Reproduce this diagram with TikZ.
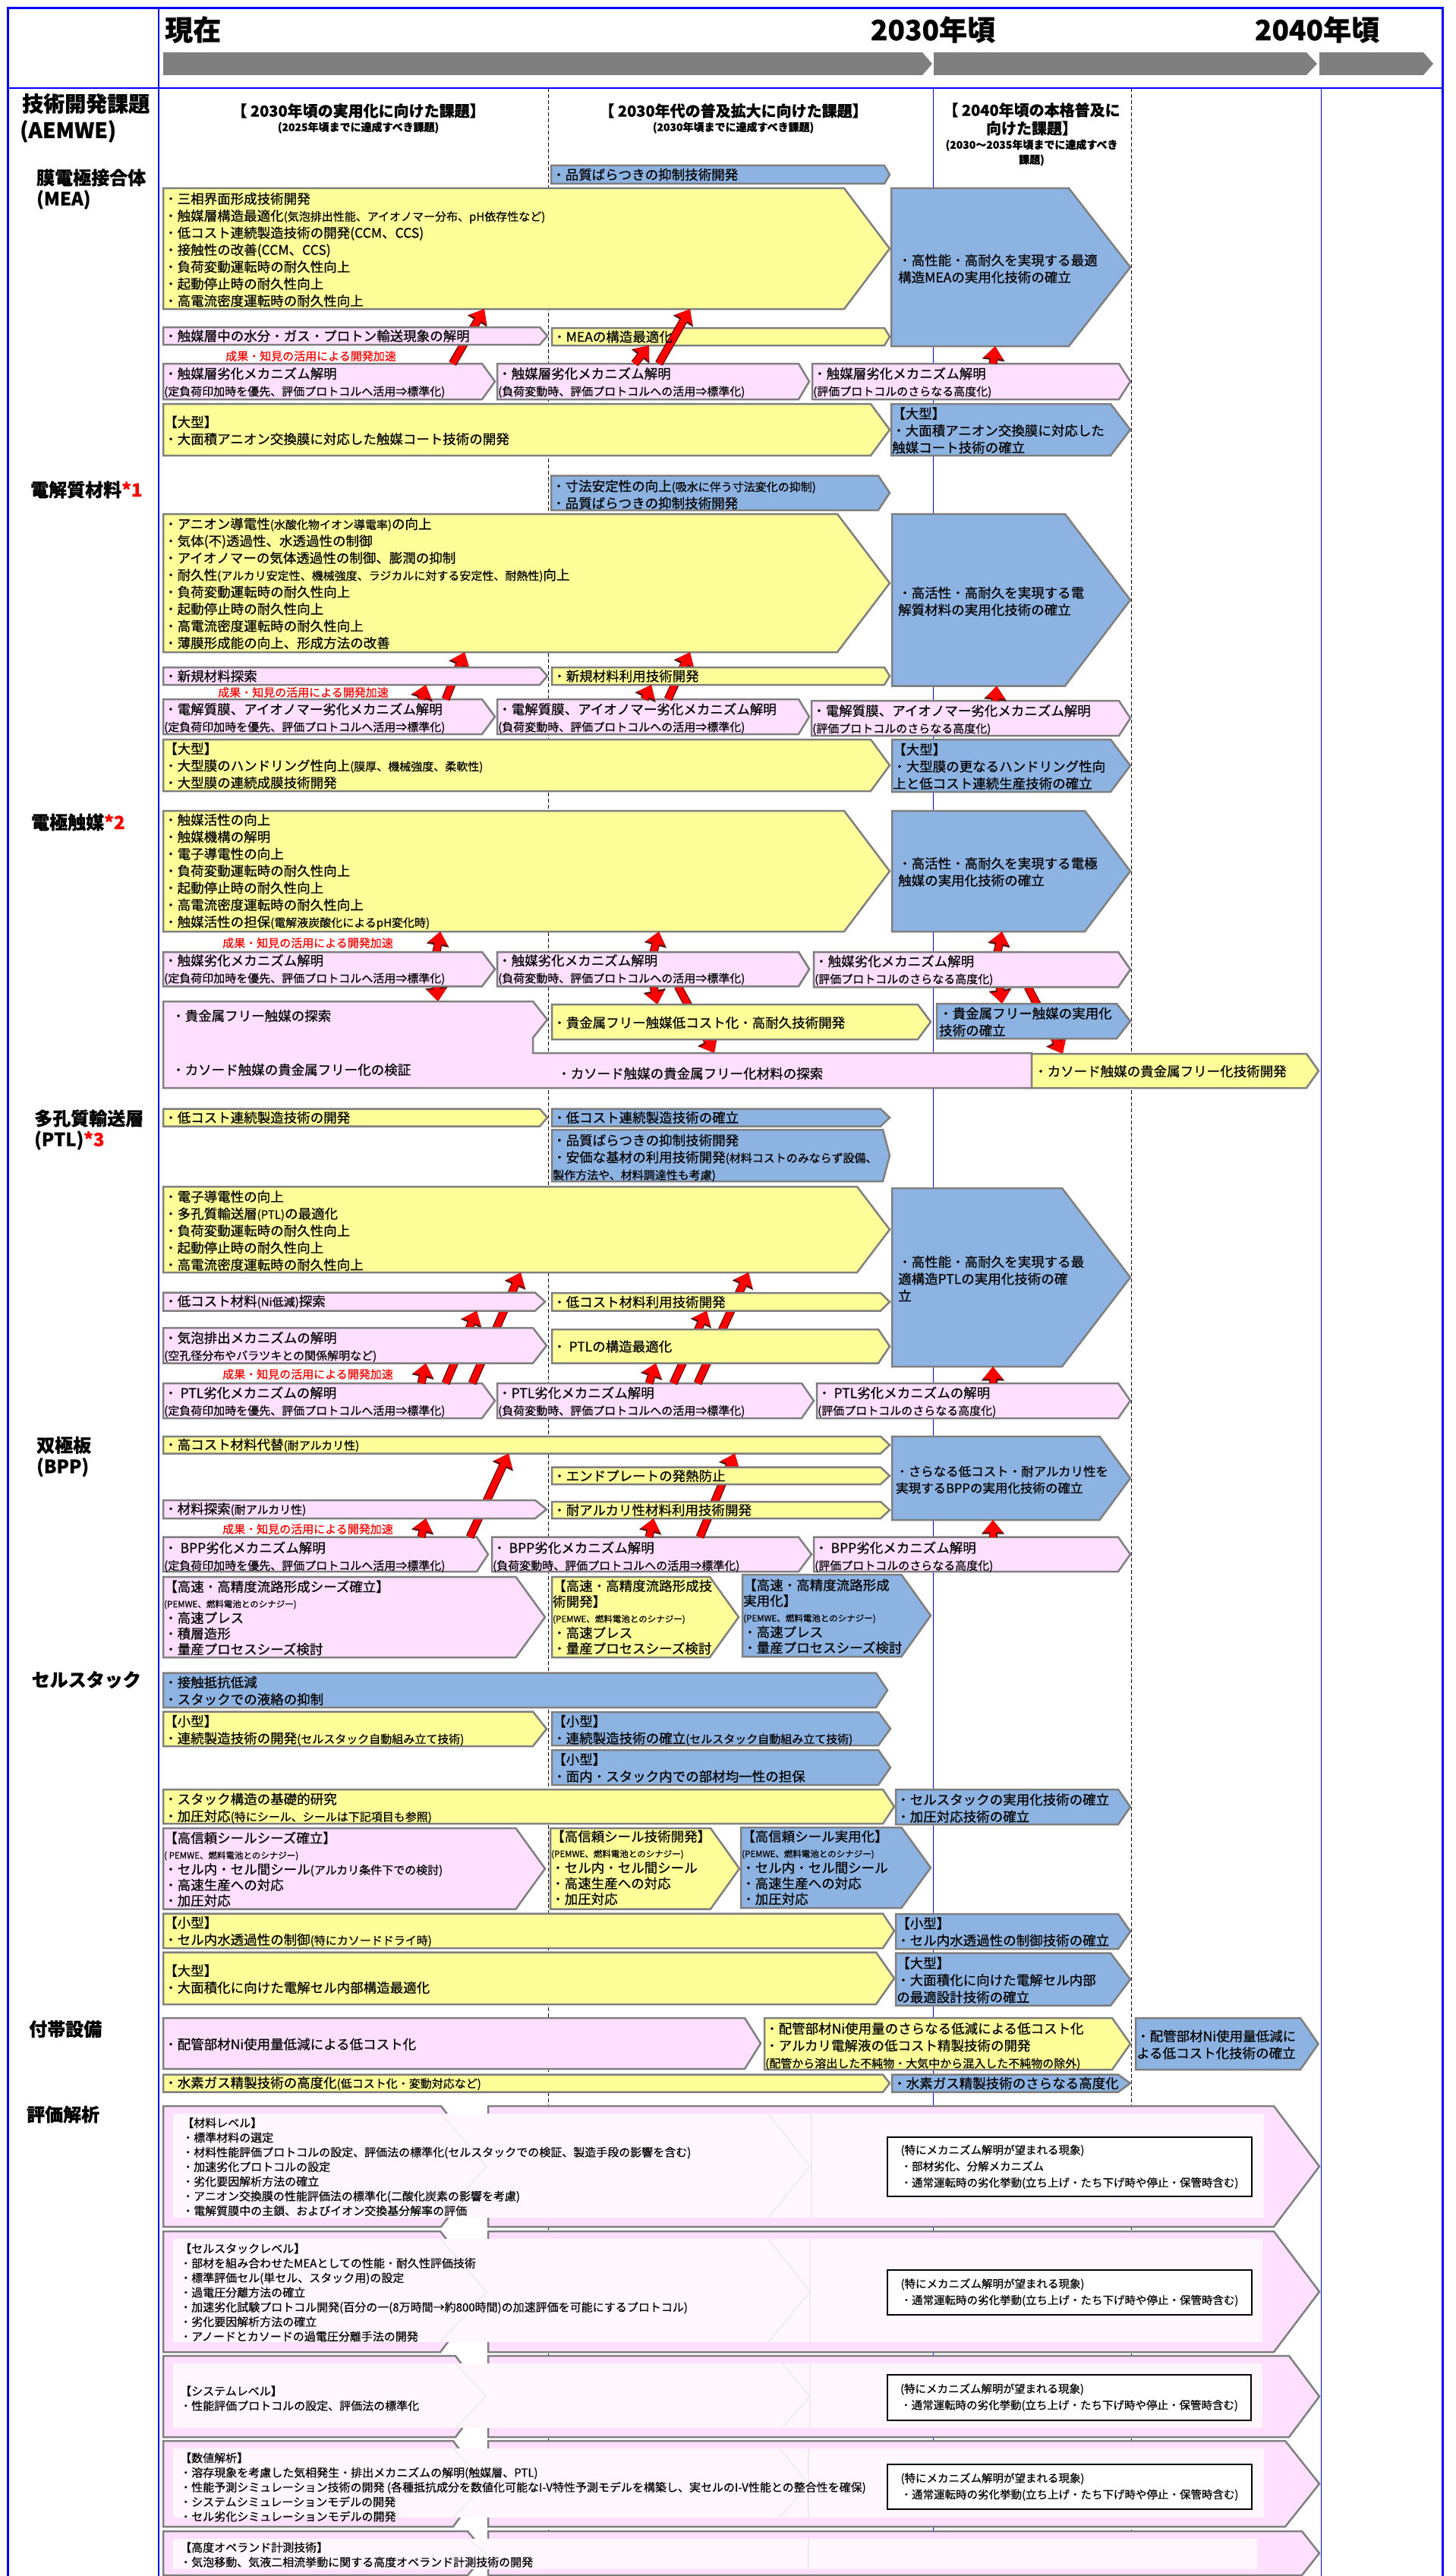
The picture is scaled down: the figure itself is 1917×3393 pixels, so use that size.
\documentclass[tikz,border=0pt]{standalone}
\usepackage{fontspec}
\newfontfamily\jp{Noto Sans CJK JP}[FakeBold=0.5]
\usetikzlibrary{arrows.meta}
\definecolor{cy}{HTML}{FFFF99}
\definecolor{cb}{HTML}{8DB3E2}
\definecolor{cp}{HTML}{FFDFFF}
\definecolor{bd}{HTML}{7F7F7F}
\definecolor{fb}{HTML}{0000FF}
\definecolor{evw}{HTML}{FFF7FE}
\definecolor{fl}{HTML}{ECECEC}
\definecolor{ao}{HTML}{5A1010}
\newcommand\bfnt{\jp\fontsize{17.5}{22.4}\selectfont}
\newcommand\smx[1]{{\fontsize{15}{22.4}\selectfont #1}}
\newcommand\tnx[1]{{\fontsize{11.5}{20.6}\selectfont #1}}
\newcommand\chev[7]{%
  \path[#2] (#3,#4) -- (#5,#4) -- (#6,{(#4+#7)/2}) -- (#5,#7) -- (#3,#7) -- cycle;
  \node[boxn, minimum width={(#6-#3)*1pt}, minimum height={(#7-#4)*1pt}] (#1) at ({(#3+#6)/2},{(#4+#7)/2}) {};
}
\tikzset{
  boxn/.style={inner sep=0pt, outer sep=0pt, draw=none, rectangle},
  yb/.style={fill=cy, draw=bd, line width=2.5pt, line join=miter},
  bb/.style={fill=cb, draw=bd, line width=2.5pt, line join=miter},
  pb/.style={fill=cp, draw=bd, line width=2.5pt, line join=miter},
  gbar/.style={fill=bd},
  tx/.style={inner sep=0pt, anchor=west, align=left, font=\bfnt},
  t5/.style={tx, font=\jp\fontsize{17.5}{20.6}\selectfont},
  et/.style={tx, font=\jp\fontsize{15}{19.3}\selectfont},
  ebx/.style={draw=black, line width=2pt, fill=white, inner sep=0pt, align=left, font=\jp\fontsize{14.5}{21.5}\selectfont},
  rt/.style={inner sep=0pt, anchor=west, text=red, font=\jp\fontsize{15}{18}\selectfont},
  hd/.style={inner sep=0pt, align=center, font=\jp\bfseries\fontsize{20}{24}\selectfont},
  hds/.style={inner sep=0pt, align=center, font=\jp\bfseries\fontsize{14}{19.5}\selectfont},
  tp/.style={inner sep=0pt, font=\jp\bfseries\fontsize{37}{40}\selectfont},
  lb0/.style={inner sep=0pt, anchor=west, font=\jp\bfseries\fontsize{28}{30}\selectfont},
  lb/.style={inner sep=0pt, anchor=west, font=\jp\bfseries\fontsize{24}{28}\selectfont},
  rarr/.style={draw=red, line width=8.5pt, -{Triangle[length=16pt,width=24pt]},
    preaction={draw=ao, line width=11pt, -{Triangle[length=18.5pt,width=29pt]}}},
  vdash/.style={draw=black, line width=1pt, dash pattern=on 5pt off 3pt},
  vblue/.style={draw=fb, line width=1pt},
  faint/.style={draw=fl, line width=1.5pt}
}
\begin{document}
\begin{tikzpicture}[x=1pt,y=-1pt]
\useasboundingbox (0,0) rectangle (1917,3393);
\fill[white] (0,0) rectangle (1917,3393);
% ---------- grid lines ----------
\draw[vdash] (722,116) -- (722,3393);
\draw[vdash] (1490,116) -- (1490,3393);
\draw[vblue] (1229,116) -- (1229,3393);
\draw[vblue] (1740,116) -- (1740,3393);
\draw[fb, line width=3pt] (10,3393) -- (10,11) -- (1900,11) -- (1900,3393);
\draw[fb, line width=2pt] (10,115.6) -- (1900,115.6);
\draw[fb, line width=1.5pt] (209,11) -- (209,3393);
% ---------- header ----------
\node[tp, anchor=west] (now) at (217,39) {現在};
\node[tp] (y2030) at (1229,39) {2030年頃};
\node[tp] (y2040) at (1735,39) {2040年頃};
\path[gbar] (215,69) -- (1215,69) -- (1228,84) -- (1215,99) -- (215,99) -- cycle;
\path[gbar] (1230,69) -- (1721,69) -- (1735,84) -- (1721,99) -- (1230,99) -- cycle;
\path[gbar] (1738,69) -- (1875,69) -- (1888,84) -- (1875,99) -- (1738,99) -- cycle;
\node[hd] (h1) at (472,146) {【 2030年頃の実用化に向けた課題】};
\node[hds] (h1s) at (472,168) {(2025年頃までに達成すべき課題)};
\node[hd] (h2) at (966,146) {【 2030年代の普及拡大に向けた課題】};
\node[hds] (h2s) at (966,168) {(2030年頃までに達成すべき課題)};
\node[hd] (h3) at (1359,157) {【 2040年頃の本格普及に\\向けた課題】};
\node[hds] (h3s) at (1359,201) {(2030～2035年頃までに達成すべき\\課題)};
% ---------- left labels ----------
\node[lb0] (lab0) at (29,136.5) {技術開発課題};
\node[lb0] (lab0b) at (26,173) {(AEMWE)};
\node[lb] (lab1) at (48,234) {膜電極接合体};
\node[lb] (lab1b) at (48,263) {(MEA)};
\node[lb] (lab2) at (40,645) {電解質材料\textcolor{red}{*1}};
\node[lb] (lab3) at (41,1083) {電極触媒\textcolor{red}{*2}};
\node[lb] (lab4) at (45,1473) {多孔質輸送層};
\node[lb] (lab4b) at (45,1502) {(PTL)\textcolor{red}{*3}};
\node[lb] (lab5) at (48,1903.5) {双極板};
\node[lb] (lab5b) at (48,1932.6) {(BPP)};
\node[lb] (lab6) at (41.5,2212.5) {セルスタック};
\node[lb] (lab7) at (38,2672.6) {付帯設備};
\node[lb] (lab8) at (35,2785) {評価解析};
% ---------- MEA ----------
\chev{meaQ}{bb}{726}{218}{1165}{1172}{242}
\chev{meaY}{yb}{215}{248}{1112}{1172}{407}
\chev{meaB}{bb}{1174}{248}{1408}{1489}{456}
\chev{meaY2}{yb}{727}{432}{1165}{1172}{455}
\chev{meaD1}{pb}{215}{479}{635}{652}{526}
\chev{meaD2}{pb}{655}{479}{1052}{1066}{526}
\chev{meaD3}{pb}{1070}{479}{1474}{1489}{526}
\draw[rarr] (596,0 |- meaD1.north) -- (638,0 |- meaY.south);
\draw[rarr] (836,0 |- meaD2.north) -- (855,0 |- meaY2.south);
\draw[rarr] (868,0 |- meaD2.north) -- (909,0 |- meaY.south);
\draw[rarr] (1308,0 |- meaD3.north) -- (1311,0 |- meaB.south);
\chev{meaP1}{pb}{215}{431}{711}{721}{454}
\node[tx] (tMeaQ) at (727,230) {・品質ばらつきの抑制技術開発};
\node[tx] (tMeaY) at (216,329) {・三相界面形成技術開発\\・触媒層構造最適化\smx{(気泡排出性能、アイオノマー分布、pH依存性など)}\\・低コスト連続製造技術の開発(CCM、CCS)\\・接触性の改善(CCM、CCS)\\・負荷変動運転時の耐久性向上\\・起動停止時の耐久性向上\\・高電流密度運転時の耐久性向上};
\node[tx] (tMeaB) at (1183,354) {・高性能・高耐久を実現する最適\\構造MEAの実用化技術の確立};
\node[tx] (tMeaP1) at (216,442.5) {・触媒層中の水分・ガス・プロトン輸送現象の解明};
\node[tx] (tMeaY2) at (728,443.5) {・MEAの構造最適化};
\node[rt] (rMea) at (297,469) {成果・知見の活用による開発加速};
\node[tx] (tMeaD1) at (216,504) {・触媒層劣化メカニズム解明\\\smx{(定負荷印加時を優先、評価プロトコルへ活用⇒標準化)}};
\node[tx] (tMeaD2) at (656,504) {・触媒層劣化メカニズム解明\\\smx{(負荷変動時、評価プロトコルへの活用⇒標準化)}};
\node[tx] (tMeaD3) at (1071,504) {・触媒層劣化メカニズム解明\\\smx{(評価プロトコルのさらなる高度化)}};
\chev{meaL}{yb}{215}{532}{1147}{1172}{600}
\node[tx] (tMeaL) at (216,567) {【大型】\\・大面積アニオン交換膜に対応した触媒コート技術の開発};
\chev{meaLb}{bb}{1174}{532}{1463}{1489}{600}
\node[tx] (tMeaLb) at (1175,567) {【大型】\\・大面積アニオン交換膜に対応した\\触媒コート技術の確立};
% ---------- electrolyte ----------
\chev{elB1}{bb}{726}{626.5}{1157}{1172}{672}
\node[tx] (tElB1) at (727,651.5) {・寸法安定性の向上\smx{(吸水に伴う寸法変化の抑制)}\\・品質ばらつきの抑制技術開発};
\chev{elY}{yb}{215}{677}{1103}{1172}{859}
\chev{elB}{bb}{1175}{677}{1403}{1489}{903.5}
\chev{elD1}{pb}{215}{921}{635}{652}{967}
\chev{elD2}{pb}{655}{921}{1052}{1066}{967}
\chev{elD3}{pb}{1069}{923}{1474}{1489}{969}
\draw[rarr] (587,0 |- elD1.north) -- (612,0 |- elY.south);
\draw[rarr] (880,0 |- elD2.north) -- (909,0 |- elY.south);
\draw[rarr] (1311,0 |- elD3.north) -- (1313,0 |- elB.south);
\chev{elP1}{pb}{215}{879}{711}{721}{902}
\chev{elY2}{yb}{727}{879}{1165}{1172}{902}
\draw[rarr] (555,0 |- elD1.north) -- (561,0 |- elP1.south);
\draw[rarr] (849,0 |- elD2.north) -- (858,0 |- elY2.south);
\node[tx] (tElY) at (216,768.5) {・アニオン導電性\smx{(水酸化物イオン導電率)}の向上\\・気体(不)透過性、水透過性の制御\\・アイオノマーの気体透過性の制御、膨潤の抑制\\・耐久性\smx{(アルカリ安定性、機械強度、ラジカルに対する安定性、耐熱性)}向上\\・負荷変動運転時の耐久性向上\\・起動停止時の耐久性向上\\・高電流密度運転時の耐久性向上\\・薄膜形成能の向上、形成方法の改善};
\node[tx] (tElB) at (1183,792) {・高活性・高耐久を実現する電\\解質材料の実用化技術の確立};
\node[tx] (tElP1) at (216,890.5) {・新規材料探索};
\node[tx] (tElY2) at (728,890.5) {・新規材料利用技術開発};
\node[rt] (rEl) at (287,912) {成果・知見の活用による開発加速};
\node[tx] (tElD1) at (216,946) {・電解質膜、アイオノマー劣化メカニズム解明\\\smx{(定負荷印加時を優先、評価プロトコルへ活用⇒標準化)}};
\node[tx] (tElD2) at (656,946) {・電解質膜、アイオノマー劣化メカニズム解明\\\smx{(負荷変動時、評価プロトコルへの活用⇒標準化)}};
\node[tx] (tElD3) at (1070,948) {・電解質膜、アイオノマー劣化メカニズム解明\\\smx{(評価プロトコルのさらなる高度化)}};
\chev{elL}{yb}{215}{974}{1147}{1172}{1042}
\node[tx] (tElL) at (216,1008.5) {【大型】\\・大型膜のハンドリング性向上\smx{(膜厚、機械強度、柔軟性)}\\・大型膜の連続成膜技術開発};
\chev{elLb}{bb}{1175}{974}{1463}{1489}{1043}
\node[tx] (tElLb) at (1176,1009.5) {【大型】\\・大型膜の更なるハンドリング性向\\上と低コスト連続生産技術の確立};
% ---------- catalyst ----------
\chev{caY}{yb}{215}{1068}{1112}{1172}{1227}
\chev{caB}{bb}{1175}{1068}{1429}{1489}{1227}
\chev{caD1}{pb}{215}{1254}{635}{652}{1299}
\chev{caD2}{pb}{655}{1254}{1052}{1066}{1299}
\chev{caD3}{pb}{1072}{1254}{1473}{1489}{1300}
\coordinate (caPkN) at (460,1319);
\coordinate (caPkS) at (1000,1387);
\draw[rarr] (575,0 |- caD1.north) -- (580,0 |- caY.south);
\draw[rarr] (861,0 |- caD2.north) -- (868,0 |- caY.south);
\draw[rarr] (1314,0 |- caD3.north) -- (1320,0 |- caB.south);
\draw[rarr] (575,0 |- caD1.south) -- (577,0 |- caPkN);
\draw[rarr] (861,0 |- caD2.south) -- (866,1323);
\draw[rarr] (893,0 |- caD2.south) -- (941,0 |- caPkS);
\draw[rarr] (1317,0 |- caD3.south) -- (1320,1322);
\draw[rarr] (1354,0 |- caD3.south) -- (1400,1388);
\chev{caD1b}{pb}{215}{1254}{635}{652}{1299}
\chev{caD2b}{pb}{655}{1254}{1052}{1066}{1299}
\chev{caD3b}{pb}{1072}{1254}{1473}{1489}{1300}
\path[pb] (215,1319) -- (702,1319) -- (721,1343) -- (702,1367) -- (702,1387) -- (1359,1387) -- (1359,1433) -- (215,1433) -- cycle;
\chev{caY2}{yb}{727}{1323}{1209}{1226}{1369}
\chev{caB2}{bb}{1234}{1322}{1471}{1489}{1368}
\chev{caY3}{yb}{1359}{1388}{1721}{1737}{1433}
\node[tx] (tCaY) at (216,1148) {・触媒活性の向上\\・触媒機構の解明\\・電子導電性の向上\\・負荷変動運転時の耐久性向上\\・起動停止時の耐久性向上\\・高電流密度運転時の耐久性向上\\・触媒活性の担保\smx{(電解液炭酸化によるpH変化時)}};
\node[tx] (tCaB) at (1183,1148.5) {・高活性・高耐久を実現する電極\\触媒の実用化技術の確立};
\node[rt] (rCa) at (293,1242) {成果・知見の活用による開発加速};
\node[tx] (tCaD1) at (216,1277) {・触媒劣化メカニズム解明\\\smx{(定負荷印加時を優先、評価プロトコルへ活用⇒標準化)}};
\node[tx] (tCaD2) at (656,1277) {・触媒劣化メカニズム解明\\\smx{(負荷変動時、評価プロトコルへの活用⇒標準化)}};
\node[tx] (tCaD3) at (1073,1278) {・触媒劣化メカニズム解明\\\smx{(評価プロトコルのさらなる高度化)}};
\node[tx] (tCaPk1) at (226,1338) {・貴金属フリー触媒の探索};
\node[tx] (tCaPk2) at (226,1409) {・カソード触媒の貴金属フリー化の検証};
\node[tx] (tCaPk3) at (734,1414) {・カソード触媒の貴金属フリー化材料の探索};
\node[tx] (tCaY2) at (728,1347) {・貴金属フリー触媒低コスト化・高耐久技術開発};
\node[tx] (tCaB2) at (1237,1346) {・貴金属フリー触媒の実用化\\技術の確立};
\node[tx] (tCaY3) at (1362,1411) {・カソード触媒の貴金属フリー化技術開発};
% ---------- PTL ----------
\chev{ptlY1}{yb}{215}{1460.6}{711}{721}{1483.5}
\node[tx] (tPtlY1) at (216,1472) {・低コスト連続製造技術の開発};
\chev{ptlB1}{bb}{727}{1460.6}{1160}{1172}{1483.5}
\node[tx] (tPtlB1) at (728,1472) {・低コスト連続製造技術の確立};
\chev{ptlB2}{bb}{727}{1488}{1163}{1172}{1556}
\node[tx] (tPtlB2) at (728,1525) {・品質ばらつきの抑制技術開発\\・安価な基材の利用技術開発\smx{(材料コストのみならず設備、}\\\smx{製作方法や、材料調達性も考慮)}};
\chev{ptlY}{yb}{215}{1563}{1129}{1172}{1676}
\chev{ptlB}{bb}{1175}{1565}{1399}{1489}{1800}
\chev{ptlD1}{pb}{215}{1822}{635}{652}{1868}
\chev{ptlD2}{pb}{655}{1822}{1056}{1072}{1868}
\chev{ptlD3}{pb}{1076}{1822}{1473}{1489}{1868}
\draw[rarr] (622,0 |- ptlD1.north) -- (686,0 |- ptlY.south);
\draw[rarr] (919,0 |- ptlD2.north) -- (986,0 |- ptlY.south);
\draw[rarr] (1308,0 |- ptlD3.north) -- (1308,0 |- ptlB.south);
\chev{ptlP1}{pb}{215}{1702.5}{705}{718}{1726.5}
\chev{ptlY2}{yb}{727}{1703}{1160}{1172}{1726.5}
\draw[rarr] (587,0 |- ptlD1.north) -- (628,0 |- ptlP1.south);
\draw[rarr] (887,0 |- ptlD2.north) -- (931,0 |- ptlY2.south);
\chev{ptlP2}{pb}{215}{1749}{702}{720}{1795.6}
\chev{ptlY3}{yb}{727}{1751}{1157}{1172}{1795.6}
\draw[rarr] (555,0 |- ptlD1.north) -- (561,0 |- ptlP2.south);
\draw[rarr] (855,0 |- ptlD2.north) -- (864,0 |- ptlY3.south);
\node[tx] (tPtlY) at (216,1621) {・電子導電性の向上\\・多孔質輸送層\smx{(PTL)}の最適化\\・負荷変動運転時の耐久性向上\\・起動停止時の耐久性向上\\・高電流密度運転時の耐久性向上};
\node[tx] (tPtlB) at (1183,1684) {・高性能・高耐久を実現する最\\適構造PTLの実用化技術の確\\立};
\node[tx] (tPtlP1) at (216,1714.5) {・低コスト材料\smx{(Ni低減)}探索};
\node[tx] (tPtlY2) at (728,1715) {・低コスト材料利用技術開発};
\node[tx] (tPtlP2) at (216,1774) {・気泡排出メカニズムの解明\\\smx{(空孔径分布やバラツキとの関係解明など)}};
\node[tx] (tPtlY3) at (728,1773.5) {・ PTLの構造最適化};
\node[rt] (rPtl) at (293,1810) {成果・知見の活用による開発加速};
\node[tx] (tPtlD1) at (216,1846.5) {・ PTL劣化メカニズムの解明\\\smx{(定負荷印加時を優先、評価プロトコルへ活用⇒標準化)}};
\node[tx] (tPtlD2) at (656,1846.5) {・PTL劣化メカニズム解明\\\smx{(負荷変動時、評価プロトコルへの活用⇒標準化)}};
\node[tx] (tPtlD3) at (1077,1846.5) {・ PTL劣化メカニズムの解明\\\smx{(評価プロトコルのさらなる高度化)}};
% ---------- BPP ----------
\chev{bppY1}{yb}{215}{1892}{1160}{1172}{1914.5}
\chev{bppB}{bb}{1175}{1892}{1448.5}{1489}{2002}
\chev{bppD1}{pb}{215}{2024.6}{628}{643}{2070}
\chev{bppD2}{pb}{648}{2024.6}{1052}{1069}{2070}
\chev{bppD3}{pb}{1072}{2024.6}{1473}{1489}{2070}
\draw[rarr] (619,0 |- bppD1.north) -- (670,0 |- bppY1.south);
\draw[rarr] (922,0 |- bppD2.north) -- (968,0 |- bppY1.south);
\draw[rarr] (1308,0 |- bppD3.north) -- (1308,0 |- bppB.south);
\chev{bppY2}{yb}{727}{1932.6}{1160}{1172}{1955}
\chev{bppP1}{pb}{215}{1976}{705}{720}{2000}
\chev{bppY3}{yb}{727}{1978}{1160}{1172}{2000}
\draw[rarr] (555,0 |- bppD1.north) -- (561,0 |- bppP1.south);
\draw[rarr] (855,0 |- bppD2.north) -- (861,0 |- bppY3.south);
\node[tx] (tBppY1) at (216,1903.5) {・高コスト材料代替\smx{(耐アルカリ性)}};
\node[tx, font=\jp\fontsize{16.5}{22}\selectfont] (tBppB) at (1180,1949) {・さらなる低コスト・耐アルカリ性を\\実現するBPPの実用化技術の確立};
\node[tx] (tBppY2) at (728,1944) {・エンドプレートの発熱防止};
\node[tx] (tBppP1) at (216,1988) {・材料探索\smx{(耐アルカリ性)}};
\node[tx] (tBppY3) at (728,1989) {・耐アルカリ性材料利用技術開発};
\node[rt] (rBpp) at (293,2014) {成果・知見の活用による開発加速};
\node[tx] (tBppD1) at (216,2050.5) {・ BPP劣化メカニズム解明\\\smx{(定負荷印加時を優先、評価プロトコルへ活用⇒標準化)}};
\node[tx] (tBppD2) at (649,2050.5) {・ BPP劣化メカニズム解明\\\smx{(負荷変動時、評価プロトコルへの活用⇒標準化)}};
\node[tx] (tBppD3) at (1073,2050.5) {・ BPP劣化メカニズム解明\\\smx{(評価プロトコルのさらなる高度化)}};
\chev{bppS1}{pb}{215}{2077}{679.5}{718}{2183}
\node[t5] (tBppS1) at (216,2131) {【高速・高精度流路形成シーズ確立】\\\tnx{(PEMWE、燃料電池とのシナジー)}\\・高速プレス\\・積層造形\\・量産プロセスシーズ検討};
\chev{bppS2}{yb}{727}{2077}{935}{973}{2183}
\node[t5] (tBppS2) at (728,2130) {【高速・高精度流路形成技\\術開発】\\\tnx{(PEMWE、燃料電池とのシナジー)}\\・高速プレス\\・量産プロセスシーズ検討};
\chev{bppS3}{bb}{978}{2074}{1187.5}{1226}{2182}
\node[t5] (tBppS3) at (979,2129) {【高速・高精度流路形成\\実用化】\\\tnx{(PEMWE、燃料電池とのシナジー)}\\・高速プレス\\・量産プロセスシーズ検討};
% ---------- cell stack ----------
\chev{csB1}{bb}{215}{2203.6}{1154}{1169}{2249}
\node[tx] (tCsB1) at (216,2227) {・接触抵抗低減\\・スタックでの液絡の抑制};
\chev{csY1}{yb}{215}{2254.5}{702}{720}{2300}
\node[tx] (tCsY1) at (216,2279) {【小型】\\・連続製造技術の開発\smx{(セルスタック自動組み立て技術)}};
\chev{csB2}{bb}{727}{2255}{1157}{1173}{2299}
\node[tx] (tCsB2) at (728,2279) {【小型】\\・連続製造技術の確立\smx{(セルスタック自動組み立て技術)}};
\chev{csB3}{bb}{727}{2305}{1157}{1173}{2351}
\node[tx] (tCsB3) at (728,2328.5) {【小型】\\・面内・スタック内での部材均一性の担保};
\chev{csY2}{yb}{215}{2357}{1163}{1178}{2402}
\node[tx] (tCsY2) at (216,2381.5) {・スタック構造の基礎的研究\\・加圧対応\smx{(特にシール、シールは下記項目も参照)}};
\chev{csB4}{bb}{1180}{2357}{1473}{1489}{2403}
\node[tx] (tCsB4) at (1181,2381.5) {・セルスタックの実用化技術の確立\\・加圧対応技術の確立};
\chev{csP1}{pb}{215}{2408}{679.5}{718}{2514.5}
\node[t5] (tCsP1) at (216,2462) {【高信頼シールシーズ確立】\\\tnx{( PEMWE、燃料電池とのシナジー)}\\・セル内・セル間シール\smx{(アルカリ条件下での検討)}\\・高速生産への対応\\・加圧対応};
\chev{csY3}{yb}{725}{2408}{936}{974}{2514.5}
\node[t5] (tCsY3) at (726,2460) {【高信頼シール技術開発】\\\tnx{(PEMWE、燃料電池とのシナジー)}\\・セル内・セル間シール\\・高速生産への対応\\・加圧対応};
\chev{csB5}{bb}{976}{2407}{1187.5}{1226}{2513}
\node[t5] (tCsB5) at (977,2460) {【高信頼シール実用化】\\\tnx{(PEMWE、燃料電池とのシナジー)}\\・セル内・セル間シール\\・高速生産への対応\\・加圧対応};
\chev{csY4}{yb}{215}{2520.6}{1163}{1178}{2566}
\node[tx] (tCsY4) at (216,2544.3) {【小型】\\・セル内水透過性の制御\smx{(特にカソードドライ時)}};
\chev{csB6}{bb}{1180}{2521}{1473}{1489}{2567}
\node[tx] (tCsB6) at (1181,2544.5) {【小型】\\・セル内水透過性の制御技術の確立};
\chev{csY5}{yb}{215}{2571.5}{1154}{1178}{2640}
\node[tx] (tCsY5) at (216,2606.75) {【大型】\\・大面積化に向けた電解セル内部構造最適化};
\chev{csB7}{bb}{1180}{2572.5}{1463}{1489}{2641.7}
\node[tx] (tCsB7) at (1181,2608) {【大型】\\・大面積化に向けた電解セル内部\\の最適設計技術の確立};
% ---------- auxiliary ----------
\chev{axP}{pb}{215}{2658}{981}{1002}{2725}
\node[tx] (tAxP) at (216,2692.5) {・配管部材Ni使用量低減による低コスト化};
\chev{axY}{yb}{1007}{2658}{1465}{1489}{2726}
\node[tx] (tAxY) at (1008,2695) {・配管部材Ni使用量のさらなる低減による低コスト化\\・アルカリ電解液の低コスト精製技術の開発\\\smx{(配管から溶出した不純物・大気中から混入した不純物の除外)}};
\chev{axB}{bb}{1496}{2658}{1713}{1736.6}{2726}
\node[tx] (tAxB) at (1497,2693) {・配管部材Ni使用量低減に\\よる低コスト化技術の確立};
\chev{axY2}{yb}{215}{2732.5}{1163}{1172}{2755.5}
\node[tx] (tAxY2) at (216,2744) {・水素ガス精製技術の高度化\smx{(低コスト化・変動対応など)}};
\chev{axB2}{bb}{1175}{2732.5}{1473}{1489}{2755.5}
\node[tx] (tAxB2) at (1176,2744) {・水素ガス精製技術のさらなる高度化};
% ---------- evaluation ----------
\chev{evA1}{pb}{215}{2774}{581}{641}{2933}
\chev{evC1}{pb}{643}{2774}{1678}{1738}{2933}
\fill[evw] (228,2784) rectangle (1665,2921);
\draw[faint] (581,2784) -- (641,2853.5) -- (581,2921);
\draw[faint] (1012,2784) -- (1067,2853.5) -- (1012,2921);
\draw[faint] (1069,2784) -- (1069,2921);
\chev{evA2}{pb}{215}{2939}{580}{641}{3098}
\chev{evC2}{pb}{643}{2939}{1678}{1738}{3098}
\fill[evw] (228,2949) rectangle (1663,3085);
\draw[faint] (580,2949) -- (641,3018.5) -- (580,3085);
\draw[faint] (1012,2949) -- (1067,3018.5) -- (1012,3085);
\draw[faint] (1067,2949) -- (1067,3085);
\chev{evA3}{pb}{215}{3103}{600}{640}{3210}
\chev{evC3}{pb}{643}{3103}{1698}{1738}{3210}
\fill[evw] (228,3113) rectangle (1663,3198);
\draw[faint] (600,3113) -- (640,3156.5) -- (600,3198);
\draw[faint] (1030,3113) -- (1067,3156.5) -- (1030,3198);
\draw[faint] (1067,3113) -- (1067,3198);
\chev{evA4}{pb}{215}{3215}{597}{638}{3328}
\chev{evC4}{pb}{643}{3215}{1693}{1738}{3328}
\fill[evw] (228,3225) rectangle (1665,3316);
\draw[faint] (597,3225) -- (638,3271.5) -- (597,3316);
\draw[faint] (1027,3225) -- (1065,3271.5) -- (1027,3316);
\draw[faint] (1065,3225) -- (1065,3316);
\chev{evA5}{pb}{215}{3334}{616}{640}{3392}
\chev{evC5}{pb}{643}{3334}{1715}{1738}{3392}
\fill[evw] (228,3344) rectangle (1656,3384);
\draw[faint] (616,3344) -- (640,3363) -- (616,3384);
\draw[faint] (1065,3344) -- (1065,3384);
\node[et] (tEv1) at (240,2854) {【材料レベル】\\・標準材料の選定\\・材料性能評価プロトコルの設定、評価法の標準化(セルスタックでの検証、製造手段の影響を含む)\\・加速劣化プロトコルの設定\\・劣化要因解析方法の確立\\・アニオン交換膜の性能評価法の標準化(二酸化炭素の影響を考慮)\\・電解質膜中の主鎖、およびイオン交換基分解率の評価};
\node[et] (tEv2) at (237,3019.5) {【セルスタックレベル】\\・部材を組み合わせたMEAとしての性能・耐久性評価技術\\・標準評価セル(単セル、スタック用)の設定\\・過電圧分離方法の確立\\・加速劣化試験プロトコル開発(百分の一(8万時間→約800時間)の加速評価を可能にするプロトコル)\\・劣化要因解析方法の確立\\・アノードとカソードの過電圧分離手法の開発};
\node[et] (tEv3) at (237,3159) {【システムレベル】\\・性能評価プロトコルの設定、評価法の標準化};
\node[et] (tEv4) at (237,3276) {【数値解析】\\・溶存現象を考慮した気相発生・排出メカニズムの解明(触媒層、PTL)\\・性能予測シミュレーション技術の開発 (各種抵抗成分を数値化可能なI-V特性予測モデルを構築し、実セルのI-V性能との整合性を確保)\\・システムシミュレーションモデルの開発\\・セル劣化シミュレーションモデルの開発};
\node[et] (tEv5) at (237,3365) {【高度オペランド計測技術】\\・気泡移動、気液二相流挙動に関する高度オペランド計測技術の開発};
\node[ebx, minimum width=480pt, minimum height=78pt] (bx1) at (1409,2854) {(特にメカニズム解明が望まれる現象)\\・部材劣化、分解メカニズム\\・通常運転時の劣化挙動(立ち上げ・たち下げ時や停止・保管時含む)};
\node[ebx, minimum width=480pt, minimum height=59pt] (bx2) at (1409,3019.5) {(特にメカニズム解明が望まれる現象)\\・通常運転時の劣化挙動(立ち上げ・たち下げ時や停止・保管時含む)};
\node[ebx, minimum width=479pt, minimum height=59.5pt] (bx3) at (1408.5,3157.75) {(特にメカニズム解明が望まれる現象)\\・通常運転時の劣化挙動(立ち上げ・たち下げ時や停止・保管時含む)};
\node[ebx, minimum width=480pt, minimum height=59pt] (bx4) at (1409,3275.5) {(特にメカニズム解明が望まれる現象)\\・通常運転時の劣化挙動(立ち上げ・たち下げ時や停止・保管時含む)};
\end{tikzpicture}
\end{document}
